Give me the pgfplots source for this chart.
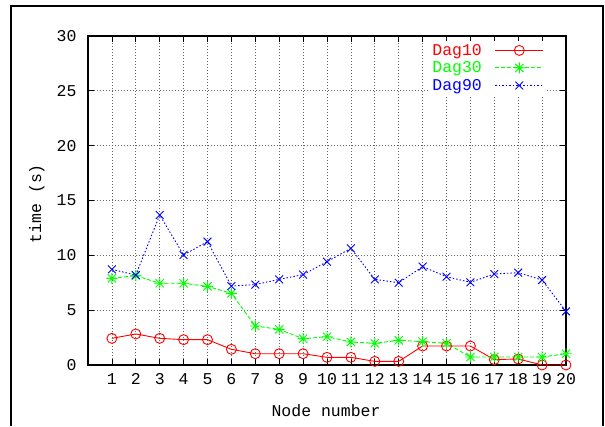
\documentclass[border=0pt]{standalone}
\usepackage{fontspec}
\setmainfont{Liberation Mono}
\usepackage{pgfplots}
\pgfplotsset{compat=1.18}
\pgfdeclareplotmark{plusx}{%
  \pgfpathmoveto{\pgfqpoint{-\pgfplotmarksize}{0pt}}\pgfpathlineto{\pgfqpoint{\pgfplotmarksize}{0pt}}%
  \pgfpathmoveto{\pgfqpoint{0pt}{-\pgfplotmarksize}}\pgfpathlineto{\pgfqpoint{0pt}{\pgfplotmarksize}}%
  \pgfpathmoveto{\pgfqpoint{-0.75\pgfplotmarksize}{-0.75\pgfplotmarksize}}\pgfpathlineto{\pgfqpoint{0.75\pgfplotmarksize}{0.75\pgfplotmarksize}}%
  \pgfpathmoveto{\pgfqpoint{-0.75\pgfplotmarksize}{0.75\pgfplotmarksize}}\pgfpathlineto{\pgfqpoint{0.75\pgfplotmarksize}{-0.75\pgfplotmarksize}}%
  \pgfusepathqstroke}
\begin{document}
\begin{tikzpicture}[x=1pt,y=1pt]
\useasboundingbox (0,0) rectangle (605,426);
\draw[line width=2pt] (11,0) -- (11,420) -- (603,420) -- (603,0);
\begin{axis}[
  at={(88pt,61pt)}, anchor=south west,
  scale only axis, width=478pt, height=329pt,
  xmin=0, xmax=20, ymin=0, ymax=30,
  xtick={1,...,20}, ytick={0,5,...,30},
  grid=major,
  major grid style={dash pattern=on 1pt off 2pt, black!60, line width=0.8pt},
  tick align=inside, major tick length=6pt,
  tick style={black, line width=0.8pt},
  axis line style={line width=1.2pt},
  /pgf/number format/assume math mode=true,
  tick label style={font=\fontsize{16.5}{19}\selectfont},
  xticklabel style={yshift=-5pt},
  yticklabel style={xshift=-8pt},
  label style={font=\fontsize{16.5}{19}\selectfont},
  xlabel={Node number}, ylabel={time (s)},
  xlabel style={at={(axis description cs:0.498,-0.140)}, anchor=center},
  ylabel style={at={(axis description cs:-0.107,0.49)}, anchor=center},
  legend style={at={(0.956,0.985)}, anchor=north east, draw=none, fill=white,
    font=\fontsize{16.5}{19}\selectfont, inner sep=1pt, row sep=1pt,
    legend cell align=right,
    /tikz/every odd column/.append style={column sep=11pt}},
  legend plot pos=right,
  legend image code/.code={\draw[mark repeat=2,mark phase=2] plot coordinates {(0pt,0pt) (24pt,0pt) (48pt,0pt)};},
]
\addplot[red, line width=0.9pt, mark=o, mark size=5pt, mark options={solid}] coordinates {
(1,2.43) (2,2.83) (3,2.43) (4,2.31) (5,2.31) (6,1.43) (7,1.03) (8,1.03) (9,1.03) (10,0.70)
(11,0.70) (12,0.33) (13,0.33) (14,1.73) (15,1.73) (16,1.73) (17,0.49) (18,0.55) (19,0) (20,0)};
\addlegendentry[text=red]{Dag10}
\addplot[green, line width=0.9pt, dash pattern=on 4pt off 2pt, mark=plusx, mark size=5.5pt, mark options={solid}] coordinates {
(1,7.9) (2,8.15) (3,7.45) (4,7.45) (5,7.17) (6,6.53) (7,3.56) (8,3.25) (9,2.40) (10,2.58)
(11,2.10) (12,1.98) (13,2.25) (14,2.13) (15,1.98) (16,0.73) (17,0.73) (18,0.73) (19,0.73) (20,1.03)};
\addlegendentry[text=green]{Dag30}
\addplot[blue, line width=0.9pt, dash pattern=on 1.5pt off 2pt, mark=x, mark size=5.5pt, mark options={solid}] coordinates {
(1,8.72) (2,8.2) (3,13.68) (4,10.03) (5,11.25) (6,7.2) (7,7.33) (8,7.81) (9,8.24) (10,9.42)
(11,10.64) (12,7.81) (13,7.5) (14,8.97) (15,8.05) (16,7.54) (17,8.3) (18,8.42) (19,7.75) (20,4.89)};
\addlegendentry[text=blue]{Dag90}
\end{axis}
\end{tikzpicture}
\end{document}
